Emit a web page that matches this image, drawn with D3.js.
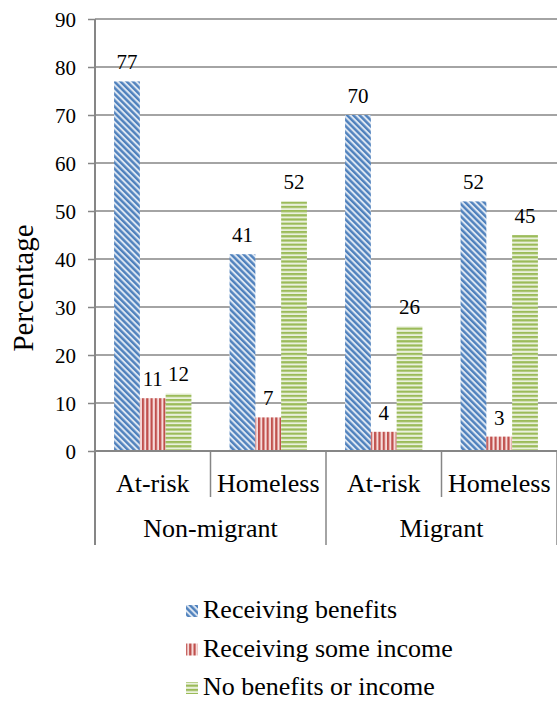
<!DOCTYPE html>
<html>
<head>
<meta charset="utf-8">
<script src="https://cdn.jsdelivr.net/npm/d3@7"></script>
<style>
  html, body { margin: 0; padding: 0; background: #fff; }
  svg { display: block; }
  svg text { font-family: "Liberation Serif", "Times New Roman", Times, serif !important; }
</style>
</head>
<body>
<svg id="chart" width="557" height="701" font-family="Liberation Serif"></svg>
<script>
// Data
const groups = ["Non-migrant", "Migrant"];
const subcats = ["At-risk", "Homeless", "At-risk", "Homeless"];
const series = ["Receiving benefits", "Receiving some income", "No benefits or income"];
const receivingBenefits = [77, 41, 70, 52];
const receivingIncome = [11, 7, 4, 3];
const noBenefits = [12, 52, 26, 45];
const yTicks = [0, 10, 20, 30, 40, 50, 60, 70, 80, 90];

const values = [receivingBenefits, receivingIncome, noBenefits];

const FONT_STYLE = "font-family: 'Liberation Serif', 'Times New Roman', Times, serif !important";
const svg = d3.select("#chart");
const plotLeft = 95, plotRight = 557, plotTop = 19, plotBottom = 451;

// Stripe patterns for the three series
const defs = svg.append("defs");
const pBlue = defs.append("pattern").attr("id", "pat0")
  .attr("patternUnits", "userSpaceOnUse").attr("width", 4.4).attr("height", 10)
  .attr("patternTransform", "rotate(-45)");
pBlue.append("rect").attr("width", 4.4).attr("height", 10).attr("fill", "#dce6f2");
pBlue.append("rect").attr("width", 2.4).attr("height", 10).attr("fill", "#4f81bd");

const pRed = defs.append("pattern").attr("id", "pat1")
  .attr("patternUnits", "userSpaceOnUse").attr("width", 4.3).attr("height", 10);
pRed.append("rect").attr("width", 4.3).attr("height", 10).attr("fill", "#f6dcdb");
pRed.append("rect").attr("width", 2.2).attr("height", 10).attr("fill", "#c0504d");

const pGreen = defs.append("pattern").attr("id", "pat2")
  .attr("patternUnits", "userSpaceOnUse").attr("width", 10).attr("height", 4.2);
pGreen.append("rect").attr("width", 10).attr("height", 4.2).attr("fill", "#eaf1dd");
pGreen.append("rect").attr("width", 10).attr("height", 2.2).attr("fill", "#9bbb59");

// Scales
const x = d3.scaleBand().domain(d3.range(subcats.length)).range([plotLeft, plotRight]).padding(0);
const xs = d3.scaleBand().domain(d3.range(series.length)).range([0, x.bandwidth()])
  .paddingInner(0).paddingOuter(0.74);
const y = d3.scaleLinear().domain([0, 90]).range([plotBottom, plotTop]);

const gridColor = "#868686";

// Gridlines
svg.append("g").selectAll("line").data(yTicks.slice(1)).join("line")
  .attr("x1", plotLeft).attr("x2", plotRight)
  .attr("y1", d => y(d)).attr("y2", d => y(d))
  .attr("stroke", gridColor).attr("stroke-width", 1.5);

// Y axis
const yAxis = svg.append("g").attr("transform", `translate(${plotLeft},0)`)
  .call(d3.axisLeft(y).tickValues(yTicks).tickSize(7).tickPadding(12));
yAxis.attr("font-family", null).attr("font-size", 21);
yAxis.select(".domain").remove();
yAxis.selectAll(".tick line").attr("stroke", gridColor).attr("stroke-width", 1.5);
yAxis.selectAll(".tick text").attr("fill", "#000").attr("dy", "0.34em").attr("style", FONT_STYLE);

// Bars and value labels
const bars = svg.append("g");
values.forEach((vals, s) => {
  bars.append("g").selectAll("rect").data(vals).join("rect")
    .attr("x", (d, i) => x(i) + xs(s))
    .attr("width", xs.bandwidth())
    .attr("y", d => y(d))
    .attr("height", d => y(0) - y(d))
    .attr("fill", `url(#pat${s})`);
  bars.append("g").selectAll("text").data(vals).join("text")
    .attr("x", (d, i) => x(i) + xs(s) + xs.bandwidth() / 2)
    .attr("y", d => y(d) - 12)
    .attr("text-anchor", "middle")
    .attr("font-size", 21)
    .attr("fill", "#000")
    .attr("style", FONT_STYLE)
    .text(d => d);
});

// Axis lines
svg.append("line").attr("x1", plotLeft).attr("x2", plotLeft).attr("y1", plotTop).attr("y2", 545)
  .attr("stroke", gridColor).attr("stroke-width", 2);
svg.append("line").attr("x1", plotLeft).attr("x2", plotRight).attr("y1", plotBottom).attr("y2", plotBottom)
  .attr("stroke", gridColor).attr("stroke-width", 2);

// Category separators
const seps = d3.range(subcats.length + 1);
svg.append("g").selectAll("line").data(seps).join("line")
  .attr("x1", i => i < subcats.length ? x(i) : plotRight)
  .attr("x2", i => i < subcats.length ? x(i) : plotRight)
  .attr("y1", plotBottom)
  .attr("y2", i => i % 2 === 0 ? 545 : 497)
  .attr("stroke", gridColor).attr("stroke-width", 1.5);

// Category labels
svg.append("g").selectAll("text").data(subcats).join("text")
  .attr("x", (d, i) => x(i) + x.bandwidth() / 2)
  .attr("y", 492)
  .attr("text-anchor", "middle")
  .attr("font-size", 26)
  .attr("fill", "#000")
  .attr("style", FONT_STYLE)
  .text(d => d);

svg.append("g").selectAll("text").data(groups).join("text")
  .attr("x", (d, i) => x(i * 2) + x.bandwidth())
  .attr("y", 537)
  .attr("text-anchor", "middle")
  .attr("font-size", 26)
  .attr("fill", "#000")
  .attr("style", FONT_STYLE)
  .text(d => d);

// Y title
svg.append("text")
  .attr("transform", "translate(33,288) rotate(-90)")
  .attr("text-anchor", "middle")
  .attr("font-size", 29)
  .attr("fill", "#000")
  .attr("style", FONT_STYLE)
  .text("Percentage");

// Legend
const legend = svg.append("g");
series.forEach((name, s) => {
  const base = 618 + s * 38.5;
  legend.append("rect").attr("x", 186).attr("y", base - 13).attr("width", 12).attr("height", 12)
    .attr("fill", `url(#pat${s})`);
  legend.append("text").attr("x", 203).attr("y", base).attr("font-size", 26)
    .attr("fill", "#000").attr("style", FONT_STYLE).text(name);
});
</script>
</body>
</html>
